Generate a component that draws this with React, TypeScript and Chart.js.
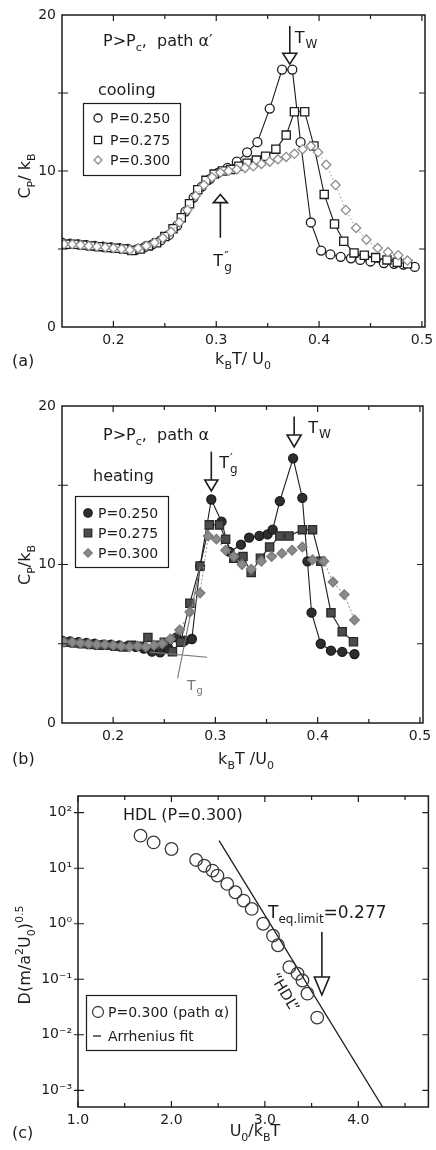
import React, { useEffect, useRef } from "react";
import { Chart, registerables } from "chart.js";

Chart.register(...registerables);

const FONT = '"DejaVu Sans", "Liberation Sans", Arial, sans-serif';
const INK = "#1c1c1c";
const GRAY = "#8e8e8e";

// ---------- Panel (a): cooling, path alpha' ----------
const aT250 = [0.150,0.158,0.166,0.174,0.182,0.190,0.198,0.206,0.214,0.222,0.230,0.238,0.246,0.254,0.262,0.270,0.278,0.286,0.294,0.302,0.311,0.320,0.330,0.340,0.352,0.364,0.374,0.382,0.392,0.402,0.411,0.421,0.431,0.440,0.450,0.463,0.473,0.482,0.493];
const aCp250 = [5.4,5.35,5.3,5.25,5.2,5.15,5.1,5.05,5.0,4.95,5.1,5.3,5.55,5.9,6.5,7.4,8.3,9.0,9.5,9.9,10.2,10.6,11.2,11.85,14.0,16.5,16.5,11.85,6.7,4.9,4.65,4.5,4.4,4.3,4.2,4.1,4.05,4.0,3.85];
const aT275 = [0.154,0.162,0.170,0.178,0.186,0.194,0.202,0.210,0.218,0.226,0.234,0.242,0.250,0.258,0.266,0.274,0.282,0.290,0.298,0.306,0.314,0.322,0.330,0.339,0.348,0.358,0.368,0.376,0.386,0.395,0.405,0.415,0.424,0.434,0.444,0.455,0.466,0.476,0.486];
const aCp275 = [5.3,5.3,5.25,5.2,5.15,5.1,5.05,5.0,4.9,5.0,5.2,5.4,5.8,6.3,7.0,7.9,8.8,9.4,9.8,10.0,10.1,10.3,10.5,10.7,10.95,11.4,12.3,13.8,13.8,11.6,8.5,6.6,5.5,4.75,4.6,4.45,4.3,4.15,4.05];
const aT300 = [0.152,0.160,0.168,0.176,0.184,0.192,0.200,0.208,0.216,0.224,0.232,0.240,0.248,0.256,0.264,0.272,0.280,0.288,0.296,0.304,0.312,0.320,0.328,0.336,0.344,0.352,0.360,0.368,0.376,0.384,0.392,0.399,0.407,0.416,0.426,0.436,0.446,0.457,0.467,0.477,0.486];
const aCp300 = [5.3,5.3,5.25,5.2,5.15,5.1,5.05,5.0,4.95,5.05,5.2,5.4,5.7,6.1,6.7,7.5,8.4,9.1,9.6,9.9,10.0,10.1,10.2,10.3,10.45,10.6,10.75,10.9,11.1,11.4,11.6,11.2,10.4,9.1,7.5,6.35,5.6,5.06,4.8,4.6,4.26];

// ---------- Panel (b): heating, path alpha ----------
const bT250 = [0.150,0.158,0.166,0.174,0.182,0.190,0.198,0.206,0.214,0.222,0.230,0.238,0.246,0.254,0.262,0.270,0.277,0.285,0.296,0.306,0.314,0.325,0.333,0.343,0.351,0.356,0.363,0.376,0.385,0.390,0.394,0.403,0.413,0.424,0.436];
const bCp250 = [5.2,5.15,5.1,5.05,5.0,4.95,4.95,4.9,4.85,4.8,4.7,4.5,4.45,4.7,5.4,5.2,5.3,9.9,14.1,12.7,10.8,11.25,11.7,11.8,11.9,12.2,14.0,16.7,14.2,10.2,6.96,5.0,4.56,4.49,4.35];
const bT275 = [0.154,0.162,0.170,0.178,0.186,0.194,0.202,0.210,0.218,0.226,0.234,0.242,0.250,0.258,0.266,0.275,0.285,0.294,0.304,0.310,0.318,0.327,0.335,0.344,0.353,0.363,0.372,0.385,0.395,0.403,0.413,0.424,0.435];
const bCp275 = [5.1,5.05,5.0,4.95,4.9,4.9,4.85,4.8,4.9,4.85,5.4,4.9,5.1,4.5,5.1,7.56,9.9,12.5,12.5,11.6,10.4,10.5,9.5,10.4,11.1,11.8,11.8,12.2,12.2,10.2,6.96,5.76,5.13];
const bT300 = [0.152,0.160,0.168,0.176,0.184,0.192,0.200,0.208,0.216,0.224,0.232,0.240,0.248,0.256,0.265,0.275,0.285,0.293,0.301,0.310,0.318,0.326,0.335,0.345,0.355,0.365,0.375,0.385,0.395,0.406,0.415,0.426,0.436];
const bCp300 = [5.1,5.1,5.05,5.0,4.95,4.95,4.9,4.85,4.8,4.85,4.8,4.9,5.0,5.3,5.87,7.0,8.2,11.8,11.6,10.9,10.5,10.0,9.7,10.2,10.5,10.7,10.9,11.1,10.3,10.2,8.9,8.1,6.5];

const xTicksAB = [0.2, 0.3, 0.4, 0.5];
const xMinorAB = [0.25, 0.35, 0.45];
const yTicksAB = [0, 10, 20];
const legendLabels = ["P=0.250", "P=0.275", "P=0.300"];

// ---------- Panel (c): diffusion, HDL ----------
const cInvT = [1.669,1.809,2.001,2.264,2.352,2.439,2.492,2.597,2.684,2.772,2.859,2.982,3.087,3.140,3.262,3.350,3.402,3.455,3.560];
const cD = [38.6,29.2,22.2,14.1,11.1,9.06,7.36,5.22,3.69,2.61,1.85,1.0,0.61,0.41,0.165,0.126,0.095,0.055,0.0204];
const fitInvT = [2.51, 4.26];
const fitD = [31.4, 0.0005];
const xTicksC = [1, 2, 3, 4];
const xMinorC = [1.5, 2.5, 3.5, 4.5];
const yTicksC = [0.001, 0.01, 0.1, 1, 10, 100];
const yTickLabelsC = ["10⁻³", "10⁻²", "10⁻¹", "10⁰", "10¹", "10²"];

type Seg = [string, number]; // 0 normal, 1 subscript, 2 superscript

const pts = (xs: number[], ys: number[]) => xs.map((x, i) => ({ x, y: ys[i] }));

function segFont(size: number, m: number) {
  return `${m ? Math.round(size * 0.68) : size}px ${FONT}`;
}
function richWidth(ctx: CanvasRenderingContext2D, segs: Seg[], size: number) {
  let w = 0;
  for (const [t, m] of segs) {
    ctx.font = segFont(size, m);
    w += ctx.measureText(t).width;
  }
  return w;
}
function drawRich(ctx: CanvasRenderingContext2D, x: number, y: number, segs: Seg[], size: number, align = "left", color = INK) {
  ctx.save();
  ctx.fillStyle = color;
  ctx.textAlign = "left";
  ctx.textBaseline = "alphabetic";
  const w = richWidth(ctx, segs, size);
  let cx = align === "center" ? x - w / 2 : align === "right" ? x - w : x;
  for (const [t, m] of segs) {
    ctx.font = segFont(size, m);
    const dy = m === 1 ? size * 0.3 : m === 2 ? -size * 0.42 : 0;
    ctx.fillText(t, cx, y + dy);
    cx += ctx.measureText(t).width;
  }
  ctx.restore();
}
function drawRotated(ctx: CanvasRenderingContext2D, cx: number, cy: number, ang: number, segs: Seg[], size: number, color = INK) {
  ctx.save();
  ctx.translate(cx, cy);
  ctx.rotate(ang);
  drawRich(ctx, 0, size * 0.36, segs, size, "center", color);
  ctx.restore();
}
function drawT(ctx: CanvasRenderingContext2D, x: number, y: number, sub: string, sup: string, size: number, color = INK) {
  ctx.save();
  ctx.fillStyle = color;
  ctx.textBaseline = "alphabetic";
  ctx.textAlign = "left";
  ctx.font = `${size}px ${FONT}`;
  ctx.fillText("T", x, y);
  const w = ctx.measureText("T").width;
  ctx.font = `${Math.round(size * 0.72)}px ${FONT}`;
  if (sup) ctx.fillText(sup, x + w + 1, y - size * 0.38);
  if (sub) ctx.fillText(sub, x + w + 1, y + size * 0.32);
  ctx.restore();
}
function arrow(ctx: CanvasRenderingContext2D, x: number, yLine: number, yBase: number, yTip: number, hw: number) {
  ctx.save();
  ctx.strokeStyle = INK;
  ctx.lineWidth = 1.6;
  ctx.beginPath();
  ctx.moveTo(x, yLine);
  ctx.lineTo(x, yBase);
  ctx.stroke();
  ctx.beginPath();
  ctx.moveTo(x - hw, yBase);
  ctx.lineTo(x + hw, yBase);
  ctx.lineTo(x, yTip);
  ctx.closePath();
  ctx.fillStyle = "#fff";
  ctx.fill();
  ctx.stroke();
  ctx.restore();
}
function marker(ctx: CanvasRenderingContext2D, kind: string, x: number, y: number, r: number, fill: string, stroke: string) {
  ctx.save();
  ctx.beginPath();
  if (kind === "circle") ctx.arc(x, y, r, 0, Math.PI * 2);
  else if (kind === "rect") ctx.rect(x - r * 0.9, y - r * 0.9, r * 1.8, r * 1.8);
  else {
    ctx.moveTo(x, y - r);
    ctx.lineTo(x + r, y);
    ctx.lineTo(x, y + r);
    ctx.lineTo(x - r, y);
    ctx.closePath();
  }
  ctx.fillStyle = fill;
  ctx.fill();
  ctx.strokeStyle = stroke;
  ctx.lineWidth = 1.3;
  ctx.stroke();
  ctx.restore();
}

function framePlugin(xMajor: number[], xMinor: number[], yMajor: number[], yMinor: number[]) {
  return {
    id: "frame",
    afterDatasetsDraw(chart: any) {
      const { ctx, chartArea } = chart;
      const { left, right, top, bottom } = chartArea;
      const xs = chart.scales.x;
      const ys = chart.scales.y;
      ctx.save();
      ctx.strokeStyle = INK;
      ctx.lineWidth = 1.5;
      ctx.strokeRect(left, top, right - left, bottom - top);
      ctx.lineWidth = 1.2;
      const tx = (v: number, len: number) => {
        const p = xs.getPixelForValue(v);
        ctx.beginPath();
        ctx.moveTo(p, bottom);
        ctx.lineTo(p, bottom - len);
        ctx.moveTo(p, top);
        ctx.lineTo(p, top + len);
        ctx.stroke();
      };
      const ty = (v: number, len: number) => {
        const p = ys.getPixelForValue(v);
        ctx.beginPath();
        ctx.moveTo(left, p);
        ctx.lineTo(left + len, p);
        ctx.moveTo(right, p);
        ctx.lineTo(right - len, p);
        ctx.moveTo(left, p);
        ctx.lineTo(left - 4, p);
        ctx.stroke();
      };
      xMajor.forEach((v) => tx(v, 6));
      xMinor.forEach((v) => tx(v, 4));
      yMajor.forEach((v) => ty(v, 6));
      yMinor.forEach((v) => ty(v, 4));
      ctx.restore();
    },
  };
}

const tickFont = { family: FONT, size: 14 };

function xScale(min: number, max: number, ticks: number[], h: number, fmt: (v: number) => string) {
  return {
    type: "linear",
    min,
    max,
    grid: { display: false, drawTicks: false },
    border: { display: false },
    ticks: { font: tickFont, color: INK, padding: 5, maxRotation: 0, callback: (v: any) => fmt(Number(v)) },
    afterBuildTicks: (s: any) => {
      s.ticks = ticks.map((value) => ({ value }));
    },
    afterFit: (s: any) => {
      s.height = h;
      s.paddingLeft = 0;
      s.paddingRight = 0;
    },
  };
}
function yScale(type: string, min: number, max: number, ticks: number[], w: number, fmt: (v: number) => string) {
  return {
    type,
    min,
    max,
    grid: { display: false, drawTicks: false },
    border: { display: false },
    ticks: { font: tickFont, color: INK, padding: 6, callback: (v: any) => fmt(Number(v)) },
    afterBuildTicks: (s: any) => {
      s.ticks = ticks.map((value) => ({ value }));
    },
    afterFit: (s: any) => {
      s.width = w;
      s.paddingTop = 0;
      s.paddingBottom = 0;
    },
  };
}

function series(xs: number[], ys: number[], style: string, r: number, fill: string, stroke: string, line: string, dash: number[]) {
  return {
    data: pts(xs, ys),
    showLine: true,
    borderColor: line,
    borderWidth: 1.1,
    borderDash: dash,
    pointStyle: style,
    pointRadius: r,
    pointBackgroundColor: fill,
    pointBorderColor: stroke,
    pointBorderWidth: 1.3,
    tension: 0,
  };
}

const baseOpts = {
  animation: false,
  responsive: false,
  devicePixelRatio: 1,
  plugins: { legend: { display: false }, tooltip: { enabled: false } },
};

function makeA(canvas: HTMLCanvasElement) {
  const annot = {
    id: "annotA",
    afterDraw(chart: any) {
      const ctx = chart.ctx;
      const x = chart.scales.x;
      const y = chart.scales.y;
      drawRich(ctx, 103, 46, [["P>P", 0], ["c", 1], [",", 0], ["  path α′", 0]], 16);
      drawRich(ctx, 98, 95, [["cooling", 0]], 16);
      ctx.save();
      ctx.strokeStyle = INK;
      ctx.lineWidth = 1.2;
      ctx.strokeRect(83.5, 103.5, 97, 72);
      ctx.restore();
      const kinds = ["circle", "rect", "diamond"];
      const cols = [INK, INK, GRAY];
      [118, 140, 160].forEach((yy, i) => {
        marker(ctx, kinds[i], 98, yy, 4, "#fff", cols[i]);
        ctx.save();
        ctx.font = `14px ${FONT}`;
        ctx.fillStyle = INK;
        ctx.textBaseline = "middle";
        ctx.fillText(legendLabels[i], 110, yy + 1);
        ctx.restore();
      });
      const xw = x.getPixelForValue(0.3715);
      arrow(ctx, xw, y.getPixelForValue(19.3), y.getPixelForValue(17.55), y.getPixelForValue(16.85), 7);
      drawT(ctx, xw + 5, 43, "W", "", 16);
      const xg = x.getPixelForValue(0.304);
      arrow(ctx, xg, y.getPixelForValue(5.72), y.getPixelForValue(7.97), y.getPixelForValue(8.49), 7);
      drawT(ctx, xg - 7, 266, "g", "″", 16);
      drawRotated(ctx, 24, 176, -Math.PI / 2, [["C", 0], ["P", 1], ["/ k", 0], ["B", 1]], 16);
      drawRich(ctx, 243, 364, [["k", 0], ["B", 1], ["T/ U", 0], ["0", 1]], 16, "center");
      drawRich(ctx, 12, 366, [["(a)", 0]], 16);
    },
  };
  return new Chart(canvas, {
    type: "scatter",
    data: {
      datasets: [
        series(aT300, aCp300, "rectRot", 4.6, "#fff", GRAY, "#a8a8a8", [1.5, 2.5]),
        series(aT275, aCp275, "rect", 5.8, "#fff", INK, INK, []),
        series(aT250, aCp250, "circle", 4.5, "#fff", INK, INK, []),
      ],
    },
    options: {
      ...baseOpts,
      layout: { padding: { top: 15, right: 11, left: 0, bottom: 0 } },
      scales: {
        x: xScale(0.15, 0.503, xTicksAB, 48, (v) => v.toFixed(1)),
        y: yScale("linear", 0, 20, yTicksAB, 62, (v) => String(v)),
      },
    } as any,
    plugins: [framePlugin(xTicksAB, xMinorAB, [5, 10, 15], []), annot],
  } as any);
}

function makeB(canvas: HTMLCanvasElement) {
  const annot = {
    id: "annotB",
    afterDraw(chart: any) {
      const ctx = chart.ctx;
      const x = chart.scales.x;
      const y = chart.scales.y;
      drawRich(ctx, 103, 65, [["P>P", 0], ["c", 1], [",", 0], ["  path α", 0]], 16);
      drawRich(ctx, 93, 106, [["heating", 0]], 16);
      ctx.save();
      ctx.strokeStyle = INK;
      ctx.lineWidth = 1.2;
      ctx.strokeRect(75.5, 121.5, 93, 71);
      ctx.restore();
      const kinds = ["circle", "rect", "diamond"];
      const fills = ["#2e2e2e", "#4c4c4c", "#8a8a8a"];
      const strokes = ["#1a1a1a", "#2a2a2a", "#7a7a7a"];
      [138, 158, 178].forEach((yy, i) => {
        marker(ctx, kinds[i], 88, yy, 4.2, fills[i], strokes[i]);
        ctx.save();
        ctx.font = `14px ${FONT}`;
        ctx.fillStyle = INK;
        ctx.textBaseline = "middle";
        ctx.fillText(legendLabels[i], 98, yy + 1);
        ctx.restore();
      });
      const xg = x.getPixelForValue(0.296);
      arrow(ctx, xg, y.getPixelForValue(17.12), y.getPixelForValue(15.33), y.getPixelForValue(14.64), 6.5);
      drawT(ctx, xg + 8, 93, "g", "′", 16);
      const xw = x.getPixelForValue(0.377);
      arrow(ctx, xw, y.getPixelForValue(19.33), y.getPixelForValue(18.17), y.getPixelForValue(17.42), 7);
      drawT(ctx, xw + 14, 58, "W", "", 16);
      ctx.save();
      ctx.strokeStyle = "#777";
      ctx.lineWidth = 1.1;
      ctx.beginPath();
      ctx.moveTo(x.getPixelForValue(0.236), y.getPixelForValue(4.47));
      ctx.lineTo(x.getPixelForValue(0.292), y.getPixelForValue(4.15));
      ctx.moveTo(x.getPixelForValue(0.263), y.getPixelForValue(2.82));
      ctx.lineTo(x.getPixelForValue(0.285), y.getPixelForValue(9.85));
      ctx.stroke();
      ctx.restore();
      drawT(ctx, 187, 315, "g", "", 14, "#777");
      drawRotated(ctx, 24, 190, -Math.PI / 2, [["C", 0], ["P", 1], ["/k", 0], ["B", 1]], 16);
      drawRich(ctx, 246, 389, [["k", 0], ["B", 1], ["T /U", 0], ["0", 1]], 16, "center");
      drawRich(ctx, 12, 389, [["(b)", 0]], 16);
    },
  };
  return new Chart(canvas, {
    type: "scatter",
    data: {
      datasets: [
        series(bT300, bCp300, "rectRot", 4.8, "#8a8a8a", "#7a7a7a", "#9a9a9a", [2, 2]),
        series(bT275, bCp275, "rect", 5.8, "#4c4c4c", "#2a2a2a", INK, []),
        series(bT250, bCp250, "circle", 4.5, "#2e2e2e", "#1a1a1a", INK, []),
      ],
    },
    options: {
      ...baseOpts,
      layout: { padding: { top: 31, right: 13, left: 0, bottom: 0 } },
      scales: {
        x: xScale(0.15, 0.503, xTicksAB, 47, (v) => v.toFixed(1)),
        y: yScale("linear", 0, 20, yTicksAB, 62, (v) => String(v)),
      },
    } as any,
    plugins: [framePlugin(xTicksAB, xMinorAB, [5, 10, 15], []), annot],
  } as any);
}

function makeC(canvas: HTMLCanvasElement) {
  const annot = {
    id: "annotC",
    afterDraw(chart: any) {
      const ctx = chart.ctx;
      const x = chart.scales.x;
      const y = chart.scales.y;
      drawRich(ctx, 123, 50, [["HDL (P=0.300)", 0]], 16);
      drawRich(ctx, 268, 148, [["T", 0], ["eq.limit", 1], ["=0.277", 0]], 17);
      const xa = x.getPixelForValue(3.61);
      arrow(ctx, xa, y.getPixelForValue(0.71), y.getPixelForValue(0.11), y.getPixelForValue(0.052), 7.5);
      drawRotated(ctx, 285, 222, (59 * Math.PI) / 180, [["“HDL”", 0]], 15);
      ctx.save();
      ctx.strokeStyle = INK;
      ctx.lineWidth = 1.2;
      ctx.strokeRect(86.5, 225.5, 150, 55);
      ctx.restore();
      marker(ctx, "circle", 98, 242, 5.5, "#fff", "#444");
      ctx.save();
      ctx.strokeStyle = INK;
      ctx.lineWidth = 1.3;
      ctx.beginPath();
      ctx.moveTo(93, 266);
      ctx.lineTo(101, 266);
      ctx.stroke();
      ctx.font = `14px ${FONT}`;
      ctx.fillStyle = INK;
      ctx.textBaseline = "middle";
      ctx.fillText("P=0.300 (path α)", 108, 243);
      ctx.fillText("Arrhenius fit", 108, 267);
      ctx.restore();
      drawRotated(ctx, 24, 185, -Math.PI / 2, [["D(m/a", 0], ["2", 2], ["U", 0], ["0", 1], [")", 0], ["0.5", 2]], 16);
      drawRich(ctx, 255, 366, [["U", 0], ["0", 1], ["/k", 0], ["B", 1], ["T", 0]], 16, "center");
      drawRich(ctx, 12, 368, [["(c)", 0]], 16);
    },
  };
  return new Chart(canvas, {
    type: "scatter",
    data: {
      datasets: [
        {
          data: pts(cInvT, cD),
          showLine: false,
          pointStyle: "circle",
          pointRadius: 6.3,
          pointBackgroundColor: "rgba(255,255,255,0)",
          pointBorderColor: "#3a3a3a",
          pointBorderWidth: 1.3,
        },
        {
          data: pts(fitInvT, fitD),
          showLine: true,
          borderColor: INK,
          borderWidth: 1.3,
          pointRadius: 0,
        },
      ],
    },
    options: {
      ...baseOpts,
      layout: { padding: { top: 26, right: 1, left: 0, bottom: 0 } },
      scales: {
        x: xScale(1.0, 4.75, xTicksC, 43, (v) => v.toFixed(1)),
        y: yScale("logarithmic", 0.0005, 200, yTicksC, 78, (v) => {
          const i = yTicksC.findIndex((t) => Math.abs(Math.log10(t) - Math.log10(v)) < 1e-6);
          return i >= 0 ? yTickLabelsC[i] : "";
        }),
      },
    } as any,
    plugins: [framePlugin(xTicksC, xMinorC, yTicksC, []), annot],
  } as any);
}

export default function App() {
  const ra = useRef<HTMLCanvasElement>(null);
  const rb = useRef<HTMLCanvasElement>(null);
  const rc = useRef<HTMLCanvasElement>(null);
  useEffect(() => {
    const a = makeA(ra.current!);
    const b = makeB(rb.current!);
    const c = makeC(rc.current!);
    return () => {
      a.destroy();
      b.destroy();
      c.destroy();
    };
  }, []);
  const cs = (top: number, h: number): React.CSSProperties => ({ position: "absolute", left: 0, top, width: 436, height: h });
  return (
    <div style={{ position: "absolute", left: 0, top: 0, width: 436, height: 1150, background: "#fff", overflow: "hidden" }}>
      <canvas ref={ra} width={436} height={375} style={cs(0, 375)} />
      <canvas ref={rb} width={436} height={395} style={cs(375, 395)} />
      <canvas ref={rc} width={436} height={380} style={cs(770, 380)} />
    </div>
  );
}
